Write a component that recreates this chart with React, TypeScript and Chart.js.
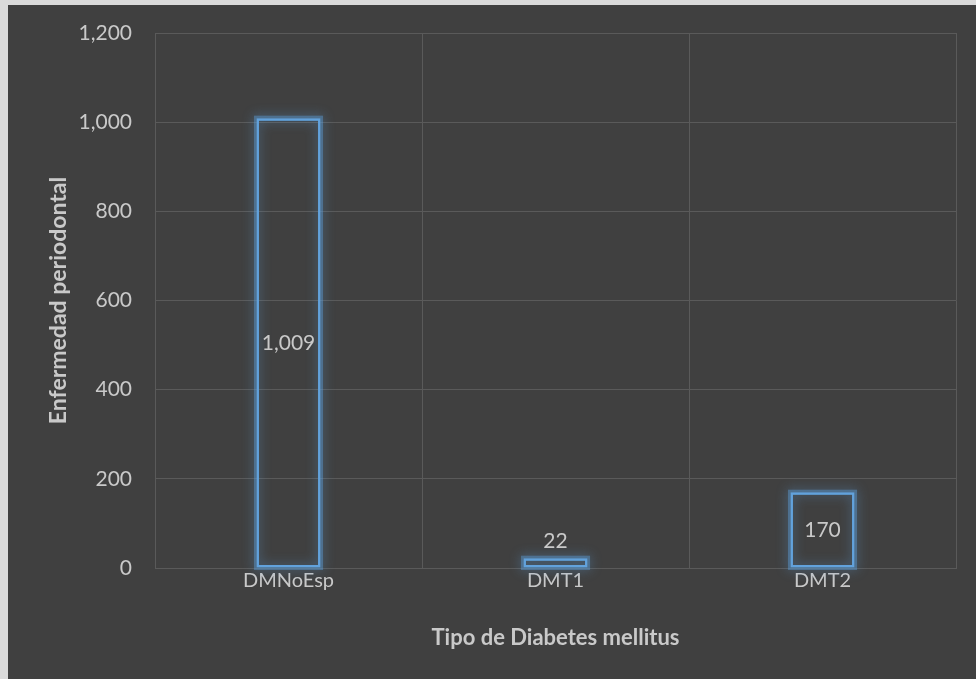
import React, { useEffect, useRef } from "react";
import { Chart, registerables } from "chart.js";

Chart.register(...registerables);

const categories = ["DMNoEsp", "DMT1", "DMT2"];
const casos = [1009, 22, 170];
const yTicks = [0, 200, 400, 600, 800, 1000, 1200];

const TEXT = "#c9c9c9";
const GRID = "#5a5a5a";
const BAR = "#62a2dc";
const FONT = "Lato, 'Open Sans', sans-serif";

const fmt = (v: number) => v.toLocaleString("en-US");

// soft blue glow around each bar outline
const glowPlugin = {
  id: "barGlow",
  beforeDatasetsDraw(chart: any) {
    const ctx = chart.ctx;
    const meta = chart.getDatasetMeta(0);
    ctx.save();
    ctx.strokeStyle = "rgba(91,155,213,0.45)";
    ctx.lineWidth = 5;
    ctx.shadowColor = "rgba(91,155,213,1)";
    ctx.shadowBlur = 12;
    meta.data.forEach((bar: any) => {
      const { x, y, base, width } = bar.getProps(["x", "y", "base", "width"], true);
      ctx.strokeRect(x - width / 2, Math.min(y, base), width, Math.abs(base - y));
    });
    ctx.restore();
  },
};

// value labels: centred in tall bars, above short ones
const labelPlugin = {
  id: "barLabels",
  afterDatasetsDraw(chart: any) {
    const ctx = chart.ctx;
    const meta = chart.getDatasetMeta(0);
    const data = chart.data.datasets[0].data as number[];
    ctx.save();
    ctx.font = `21px ${FONT}`;
    ctx.fillStyle = TEXT;
    ctx.textAlign = "center";
    ctx.textBaseline = "middle";
    meta.data.forEach((bar: any, i: number) => {
      const { x, y, base } = bar.getProps(["x", "y", "base"], true);
      const h = Math.abs(base - y);
      const ty = h > 40 ? (y + base) / 2 : y - 17;
      ctx.fillText(fmt(data[i]), x, ty);
    });
    ctx.restore();
  },
};

export default function App() {
  const ref = useRef<HTMLCanvasElement>(null);

  useEffect(() => {
    if (!ref.current) return;
    const chart = new Chart(ref.current, {
      type: "bar",
      data: {
        labels: categories,
        datasets: [
          {
            data: casos,
            backgroundColor: "rgba(0,0,0,0)",
            borderColor: BAR,
            borderWidth: 2.5,
            borderSkipped: false,
            barPercentage: 0.24,
            categoryPercentage: 1,
          },
        ],
      },
      options: {
        responsive: false,
        animation: false,
        layout: { padding: { left: 34, right: 20, top: 28, bottom: 25 } },
        plugins: { legend: { display: false }, tooltip: { enabled: false } },
        scales: {
          x: {
            grid: { color: GRID, drawTicks: false, offset: true },
            border: { color: GRID },
            ticks: { color: TEXT, font: { family: FONT, size: 20 }, padding: 1 },
            title: {
              display: true,
              text: "Tipo de Diabetes mellitus",
              color: TEXT,
              font: { family: FONT, size: 22, weight: "bold" },
              padding: 3,
            },
            afterFit: (s: any) => {
              s.height = 86;
              s.paddingLeft = 0;
              s.paddingRight = 0;
            },
          },
          y: {
            min: 0,
            max: 1200,
            afterBuildTicks: (s: any) => {
              s.ticks = yTicks.map((v) => ({ value: v }));
            },
            grid: { color: GRID, drawTicks: false },
            border: { color: GRID },
            ticks: {
              color: TEXT,
              font: { family: FONT, size: 21 },
              padding: 23,
              callback: (v: any) => fmt(Number(v)),
            },
            title: {
              display: true,
              text: "Enfermedad periodontal",
              color: TEXT,
              font: { family: FONT, size: 23, weight: "bold" },
              padding: 3,
            },
            afterFit: (s: any) => {
              s.width = 113;
              s.paddingTop = 0;
              s.paddingBottom = 0;
            },
          },
        },
      },
      plugins: [glowPlugin, labelPlugin],
    });
    return () => chart.destroy();
  }, []);

  return (
    <div style={{ position: "fixed", inset: 0, background: "#dadada" }}>
      <div
        style={{
          position: "fixed",
          left: 8,
          top: 5,
          width: 968,
          height: 674,
          background: "#404040",
        }}
      >
        <canvas ref={ref} width={968} height={674} style={{ display: "block" }} />
      </div>
    </div>
  );
}
